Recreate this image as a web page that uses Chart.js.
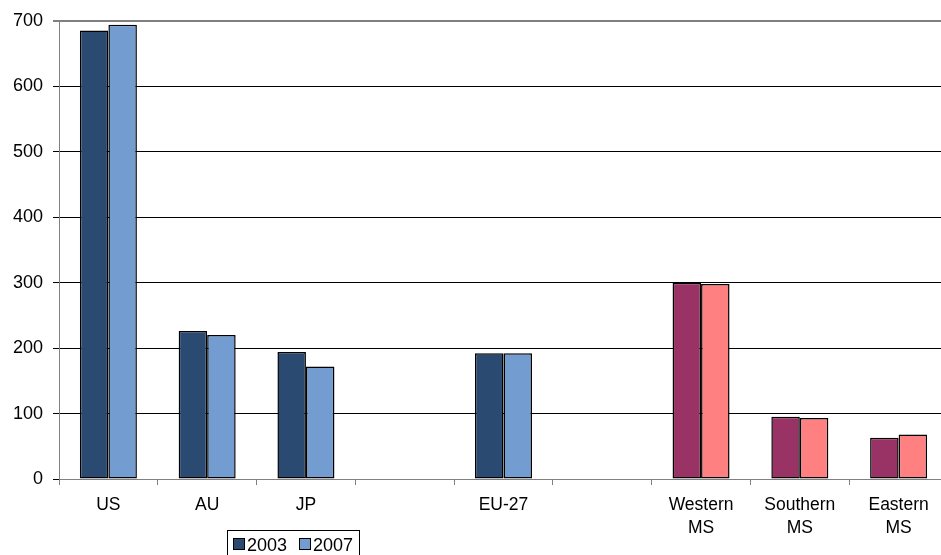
<!DOCTYPE html>
<html>
<head>
<meta charset="utf-8">
<script src="https://cdn.jsdelivr.net/npm/chart.js@4/dist/chart.umd.min.js"></script>
<style>
  html, body { margin: 0; padding: 0; background: #fff; overflow: hidden; }
  #wrap { width: 950px; height: 555px; }
</style>
</head>
<body>
<div id="wrap"><canvas id="chart" width="950" height="555"></canvas></div>
<script>
// Regions and their values for the two survey years
const categories = [
  'US', 'AU', 'JP', '', 'EU-27', '',
  ['Western', 'MS'], ['Southern', 'MS'], ['Eastern', 'MS']
];
const seriesNames = ['2003', '2007'];
const values2003 = [685, 226, 194, null, 192, null, 300, 95, 63];
const values2007 = [694, 220, 172, null, 192, null, 298, 93, 68];
const yTicks = { min: 0, max: 700, step: 100 };

// Colours: blue pair for countries / EU-27, rose pair for member-state groups
const blueDark = '#2a4a72', blueLight = '#739cd0';
const roseDark = '#993366', roseLight = '#ff8080';
const isGroup = i => i >= 6;
const fill2003 = categories.map((_, i) => isGroup(i) ? roseDark : blueDark);
const fill2007 = categories.map((_, i) => isGroup(i) ? roseLight : blueLight);

const FONT = 'Liberation Sans, Arial, Helvetica, sans-serif';

// Boxed legend drawn below the axis labels
const boxedLegend = {
  id: 'boxedLegend',
  afterDraw(chart) {
    const ctx = chart.ctx;
    ctx.save();
    ctx.strokeStyle = '#000';
    ctx.lineWidth = 1;
    ctx.strokeRect(227.5, 530.5, 132, 40);
    const items = [
      { x: 233, color: blueDark, label: seriesNames[0] },
      { x: 299, color: blueLight, label: seriesNames[1] }
    ];
    ctx.font = '18px ' + FONT;
    ctx.textBaseline = 'alphabetic';
    ctx.textAlign = 'left';
    items.forEach(it => {
      ctx.fillStyle = it.color;
      ctx.fillRect(it.x, 538, 12, 12);
      ctx.strokeRect(it.x + 0.5, 538.5, 11, 11);
      ctx.fillStyle = '#000';
      ctx.fillText(it.label, it.x + 14, 551);
    });
    ctx.restore();
  }
};

new Chart(document.getElementById('chart'), {
  type: 'bar',
  data: {
    labels: categories,
    datasets: [
      { label: seriesNames[0], data: values2003, backgroundColor: fill2003,
        borderColor: '#000', borderWidth: 1.5, borderSkipped: false },
      { label: seriesNames[1], data: values2007, backgroundColor: fill2007,
        borderColor: '#000', borderWidth: 1.5, borderSkipped: false }
    ]
  },
  options: {
    responsive: false,
    animation: false,
    layout: { padding: { top: 19, right: 2, bottom: 0, left: 0 } },
    datasets: { bar: { categoryPercentage: 0.577, barPercentage: 1 } },
    plugins: {
      legend: { display: false },
      tooltip: { enabled: false }
    },
    scales: {
      x: {
        type: 'category',
        offset: true,
        afterFit(scale) { scale.height = 76; },
        border: { display: true, color: '#808080', width: 1 },
        grid: {
          offset: true,
          drawOnChartArea: false,
          drawTicks: true,
          tickLength: 6,
          color: '#808080'
        },
        ticks: {
          autoSkip: false,
          maxRotation: 0,
          padding: 9,
          color: '#000',
          font: { family: FONT, size: 17.5, lineHeight: 23 / 17.5 }
        }
      },
      y: {
        min: yTicks.min,
        max: yTicks.max,
        afterFit(scale) { scale.width = 59; },
        border: { display: true, color: '#808080', width: 1 },
        grid: {
          color: ctx => (ctx.tick && ctx.tick.value === yTicks.max) ? '#808080' : '#000',
          lineWidth: ctx => (ctx.tick && ctx.tick.value === yTicks.max) ? 2 : 1,
          tickLength: 6
        },
        ticks: {
          stepSize: yTicks.step,
          padding: 10,
          color: '#000',
          font: { family: FONT, size: 18 }
        }
      }
    }
  },
  plugins: [boxedLegend]
});
</script>
</body>
</html>
